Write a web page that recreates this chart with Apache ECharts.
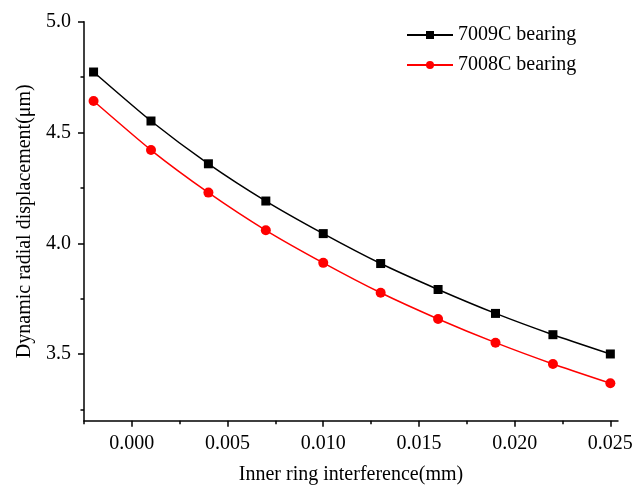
<!DOCTYPE html>
<html><head><meta charset="utf-8">
<script src="https://cdn.jsdelivr.net/npm/echarts@6/dist/echarts.min.js"></script>
<style>html,body{margin:0;padding:0;background:#fff}#c{width:644px;height:486px}</style>
</head><body><div id="c"></div>
<script>
const xValues = [-0.002, 0.001, 0.004, 0.007, 0.010, 0.013, 0.016, 0.019, 0.022, 0.025];
const s7009 = [4.773, 4.552, 4.359, 4.191, 4.044, 3.909, 3.792, 3.684, 3.588, 3.501];
const s7008 = [4.642, 4.421, 4.229, 4.059, 3.912, 3.777, 3.659, 3.552, 3.456, 3.369];
const xTicks = [0, 0.005, 0.010, 0.015, 0.020, 0.025];
const xMinorTicks = [-0.0025, 0.0025, 0.0075, 0.0125, 0.0175, 0.0225];
const yTicks = [3.5, 4.0, 4.5, 5.0];
const yMinorTicks = [3.25, 3.75, 4.25, 4.75];
const names = ['7009C bearing', '7008C bearing'];

const font = '"Liberation Serif", "Times New Roman", serif';
const chart = echarts.init(document.getElementById('c'));
const pair = arr => xValues.map((x, i) => [x, arr[i]]);
const axisLine = {show: true, onZero: false, lineStyle: {color: '#000', width: 1.5}};
chart.setOption({
  animation: false,
  backgroundColor: '#fff',
  grid: {left: 84, top: 21.7, right: 26, bottom: 65.3, containLabel: false, outerBoundsMode: 'none'},
  legend: {
    orient: 'vertical', left: 406, top: 25, padding: 0, itemWidth: 46, itemHeight: 10, itemGap: 10,
    textStyle: {fontFamily: font, fontSize: 20, color: '#000'},
    data: names
  },
  xAxis: [{
    type: 'value', min: -0.0025, max: 0.0254,
    axisLine: axisLine,
    axisTick: {show: true, inside: false, length: 6, customValues: xTicks, lineStyle: {color: '#000', width: 1.5}},
    axisLabel: {customValues: xTicks, margin: 13, fontFamily: font, fontSize: 20, color: '#000',
      formatter: v => v.toFixed(3)},
    splitLine: {show: false},
    name: 'Inner ring interference(mm)', nameLocation: 'middle', nameGap: 44,
    nameTextStyle: {fontFamily: font, fontSize: 20, color: '#000'}
  }, {
    type: 'value', min: -0.0025, max: 0.0254, position: 'bottom',
    axisLine: {show: false, onZero: false},
    axisTick: {show: true, length: 3.5, customValues: xMinorTicks, lineStyle: {color: '#000', width: 1.5}},
    axisLabel: {show: false}, splitLine: {show: false}
  }],
  yAxis: [{
    type: 'value', min: 3.2, max: 5.0,
    axisLine: axisLine,
    axisTick: {show: true, length: 6, customValues: yTicks, lineStyle: {color: '#000', width: 1.5}},
    axisLabel: {customValues: yTicks, margin: 13, fontFamily: font, fontSize: 20, color: '#000',
      formatter: v => v.toFixed(1)},
    splitLine: {show: false},
    name: 'Dynamic radial displacement(\u03bcm)', nameLocation: 'middle', nameGap: 49, nameRotate: 90,
    nameTextStyle: {fontFamily: font, fontSize: 20, color: '#000'}
  }, {
    type: 'value', min: 3.2, max: 5.0, position: 'left',
    axisLine: {show: false, onZero: false},
    axisTick: {show: true, length: 3.5, customValues: yMinorTicks, lineStyle: {color: '#000', width: 1.5}},
    axisLabel: {show: false}, splitLine: {show: false}
  }],
  series: [{
    name: names[0], type: 'line', data: pair(s7009), smooth: 0.2,
    symbol: 'rect', symbolSize: 9, itemStyle: {color: '#000'},
    lineStyle: {color: '#000', width: 1.5}
  }, {
    name: names[1], type: 'line', data: pair(s7008), smooth: 0.2,
    symbol: 'circle', symbolSize: 10, itemStyle: {color: '#f00'},
    lineStyle: {color: '#f00', width: 1.5}
  }]
});
</script></body></html>
